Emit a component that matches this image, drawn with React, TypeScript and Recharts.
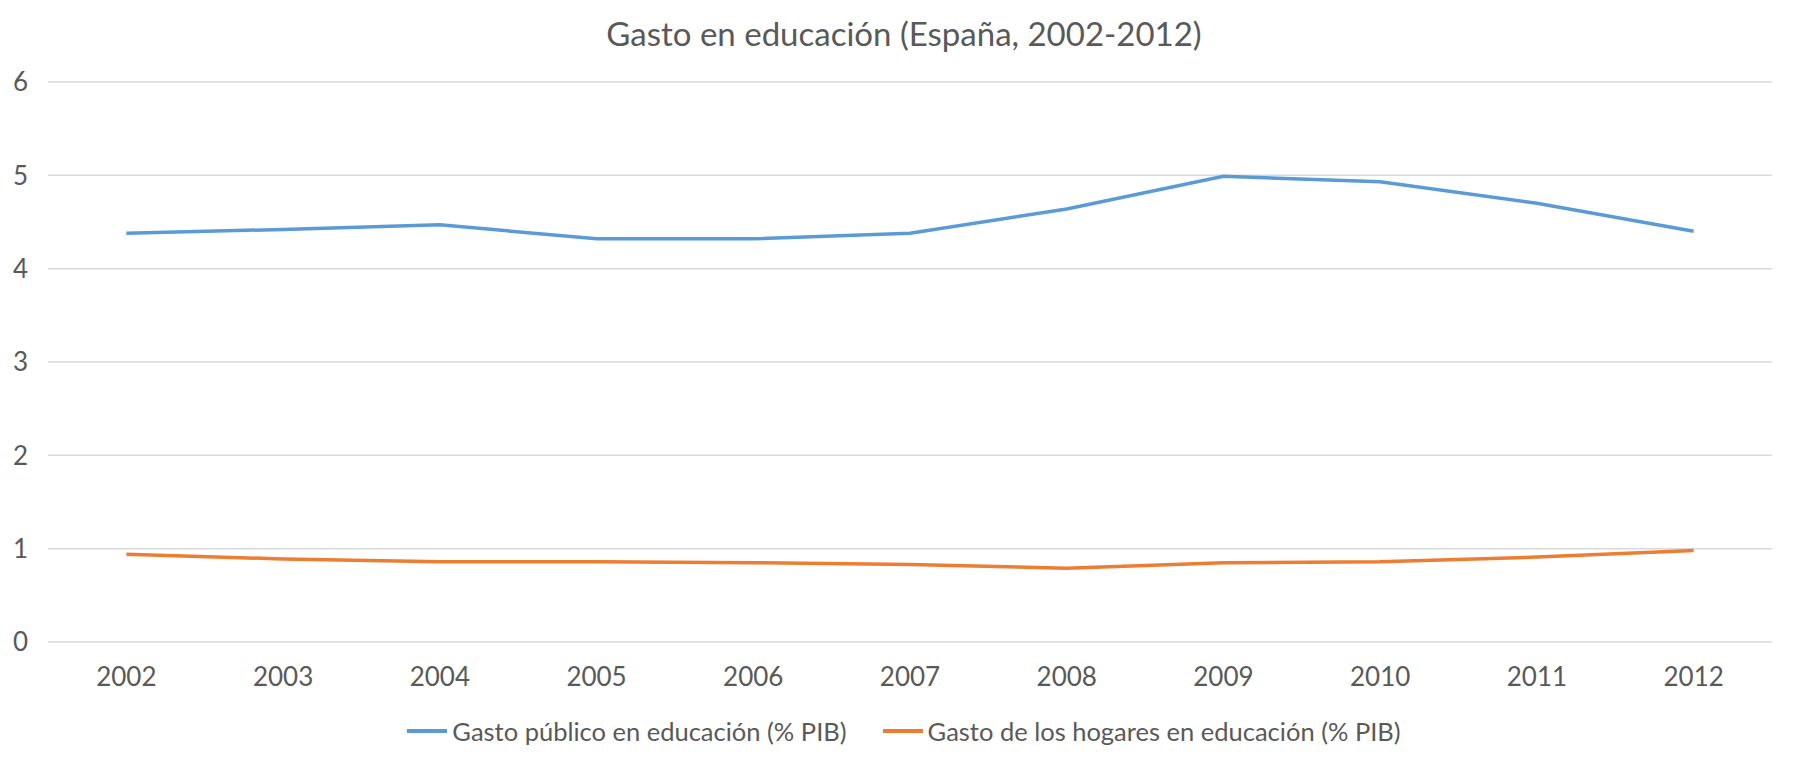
import { CartesianGrid, Line, LineChart, XAxis, YAxis } from "recharts";

const YEARS = ["2002", "2003", "2004", "2005", "2006", "2007", "2008", "2009", "2010", "2011", "2012"];
const PUBLICO = [4.38, 4.42, 4.47, 4.32, 4.32, 4.38, 4.64, 4.99, 4.93, 4.7, 4.4];
const HOGARES = [0.94, 0.89, 0.86, 0.86, 0.85, 0.83, 0.79, 0.85, 0.86, 0.91, 0.98];
const Y_TICKS = [0, 1, 2, 3, 4, 5, 6];

const SERIES = [
  { key: "publico", name: "Gasto público en educación (% PIB)", color: "#5B9BD5" },
  { key: "hogares", name: "Gasto de los hogares en educación (% PIB)", color: "#ED7D31" },
];

const data = YEARS.map((year, i) => ({ year, publico: PUBLICO[i], hogares: HOGARES[i] }));

const FONT = "Lato, 'Open Sans', sans-serif";
const TEXT = "#595959";

export default function App() {
  return (
    <div style={{ position: "absolute", left: 0, top: 0, width: 1808, height: 764, background: "#fff", fontFamily: FONT }}>
      <div
        style={{
          position: "absolute",
          top: 11,
          left: 0,
          width: 1808,
          textAlign: "center",
          fontSize: 33,
          color: TEXT,
          lineHeight: "44px",
        }}
      >
        Gasto en educación (España, 2002-2012)
      </div>
      <LineChart width={1808} height={764} data={data} margin={{ top: 82, right: 36, bottom: 92, left: 0 }}>
        <CartesianGrid vertical={false} stroke="#D9D9D9" strokeWidth={1.5} />
        <XAxis
          dataKey="year"
          scale="band"
          axisLine={false}
          tickLine={false}
          tickSize={0}
          tickMargin={26}
          tick={{ fill: TEXT, fontSize: 26, fontFamily: FONT }}
        />
        <YAxis
          width={48}
          domain={[0, 6]}
          ticks={Y_TICKS}
          axisLine={false}
          tickLine={false}
          tickSize={0}
          tickMargin={20}
          tick={{ fill: TEXT, fontSize: 26, fontFamily: FONT }}
        />
        {SERIES.map((s) => (
          <Line
            key={s.key}
            type="linear"
            dataKey={s.key}
            name={s.name}
            stroke={s.color}
            strokeWidth={3.5}
            dot={false}
            isAnimationActive={false}
          />
        ))}
      </LineChart>
      <div
        style={{
          position: "absolute",
          top: 715,
          left: 0,
          width: 1808,
          display: "flex",
          justifyContent: "center",
          gap: 36,
          fontSize: 25.5,
          color: TEXT,
          lineHeight: "32px",
        }}
      >
        {SERIES.map((s) => (
          <span key={s.key} style={{ display: "inline-flex", alignItems: "center", gap: 5 }}>
            <span style={{ display: "inline-block", width: 40, height: 4, background: s.color }} />
            <span>{s.name}</span>
          </span>
        ))}
      </div>
    </div>
  );
}
